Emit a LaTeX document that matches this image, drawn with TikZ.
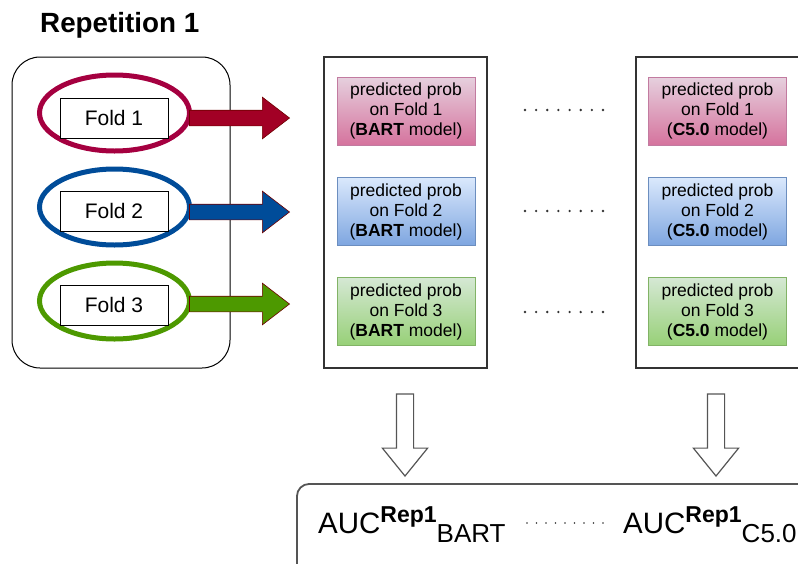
\documentclass[tikz,border=0pt]{standalone}
\usepackage{fontspec}
\setmainfont{Liberation Sans}
\usetikzlibrary{shapes.geometric,shapes.arrows}
\definecolor{redE}{HTML}{A50040}
\definecolor{redA}{HTML}{A20025}
\definecolor{blueE}{HTML}{004C99}
\definecolor{greenE}{HTML}{4D9900}
\definecolor{arrStroke}{HTML}{6F0000}
\definecolor{pinkT}{HTML}{E6D0DE}
\definecolor{pinkB}{HTML}{D5739D}
\definecolor{pinkS}{HTML}{C27BA0}
\definecolor{blueT}{HTML}{DAE8FC}
\definecolor{blueB}{HTML}{7EA6E0}
\definecolor{blueS}{HTML}{6C8EBF}
\definecolor{greenT}{HTML}{D5E8D4}
\definecolor{greenB}{HTML}{97D077}
\definecolor{greenS}{HTML}{82B366}
\definecolor{lineG}{HTML}{333333}
\definecolor{boxG}{HTML}{555555}
\begin{document}
\begin{tikzpicture}[x=1pt,y=-1pt,
  foldell/.style={ellipse, line width=5pt, minimum width=150pt, minimum height=76pt, inner sep=0pt},
  foldbox/.style={draw=black, fill=white, line width=0.9pt, minimum width=108pt, minimum height=40pt, inner sep=0pt, font=\fontsize{21}{24}\selectfont},
  blockarr/.style={single arrow, draw=arrStroke, line width=0.6pt, anchor=tip, minimum height=100pt, inner xsep=0pt, inner ysep=7.5pt, single arrow head extend=13pt, single arrow tip angle=75, single arrow head indent=0pt},
  downarr/.style={single arrow, draw=boxG, fill=white, line width=1.2pt, rotate=-90, anchor=tip, minimum height=82pt, inner xsep=0pt, inner ysep=8pt, single arrow head extend=14pt, single arrow tip angle=78, single arrow head indent=0pt},
  colbox/.style={draw=lineG, line width=1.2pt, minimum height=311pt, inner sep=0pt},
  probbox/.style={line width=0.9pt, minimum width=138pt, minimum height=68pt, inner sep=0pt, align=center, font=\fontsize{17.5}{20}\selectfont},
  pinkbox/.style={probbox, top color=pinkT, bottom color=pinkB, draw=pinkS},
  bluebox/.style={probbox, top color=blueT, bottom color=blueB, draw=blueS},
  greenbox/.style={probbox, top color=greenT, bottom color=greenB, draw=greenS},
  dotrow/.style={draw=lineG, line width=2.6pt, line cap=round, dash pattern=on 0pt off 11.14pt},
  smalldots/.style={draw=lineG, line width=1.9pt, line cap=round, dash pattern=on 0pt off 9.5pt},
  auc/.style={anchor=base west, inner sep=0pt}
]
\clip (0,0) rectangle (798,563);

\node[anchor=base west, inner sep=0pt, font=\bfseries\fontsize{27.8}{31}\selectfont] (title) at (40,32) {Repetition 1};

\node[draw=black, line width=1pt, rounded corners=28pt, minimum width=218pt, minimum height=311pt] (rep) at (121,212.5) {};

\node[foldell, draw=redE] (e1) at (114.5,113) {};
\node[foldell, draw=blueE] (e2) at (114.5,207) {};
\node[foldell, draw=greenE] (e3) at (114.5,301) {};

\node[foldbox] (f1) at (114,118) {Fold 1};
\node[foldbox] (f2) at (114,211) {Fold 2};
\node[foldbox] (f3) at (114,305) {Fold 3};

\node[blockarr, fill=redA] (a1) at (290,118) {};
\node[blockarr, fill=blueE] (a2) at (290,212) {};
\node[blockarr, fill=greenE] (a3) at (290,304) {};

\node[colbox, minimum width=163pt] (c1) at (405.5,212.5) {};
\node[colbox, minimum width=176pt] (c2) at (724,212.5) {};

\node[pinkbox] (p11) at (406,111) {predicted prob\\on Fold 1\\(\textbf{BART} model)};
\node[bluebox] (p12) at (406,211.5) {predicted prob\\on Fold 2\\(\textbf{BART} model)};
\node[greenbox] (p13) at (406,311.5) {predicted prob\\on Fold 3\\(\textbf{BART} model)};
\node[pinkbox] (p21) at (717.5,111) {predicted prob\\on Fold 1\\(\textbf{C5.0} model)};
\node[bluebox] (p22) at (717.5,211.5) {predicted prob\\on Fold 2\\(\textbf{C5.0} model)};
\node[greenbox] (p23) at (717.5,311.5) {predicted prob\\on Fold 3\\(\textbf{C5.0} model)};

\coordinate (ds1) at (525,110);
\coordinate (de1) at (603.5,110);
\coordinate (ds2) at (525,211);
\coordinate (de2) at (603.5,211);
\coordinate (ds3) at (525,312);
\coordinate (de3) at (603.5,312);
\draw[dotrow] (ds1) -- (de1);
\draw[dotrow] (ds2) -- (de2);
\draw[dotrow] (ds3) -- (de3);

\node[downarr] (d1) at (405,477) {};
\node[downarr] (d2) at (716,477) {};

\node[draw=boxG, line width=1.8pt, rounded corners=12pt, minimum width=653pt, minimum height=156pt] (aucbox) at (623.5,562) {};

\node[auc] (auc1) at (318,533) {\fontsize{29.5}{32}\selectfont AUC\raisebox{11pt}{\bfseries\fontsize{23}{25}\selectfont Rep1}\raisebox{-9pt}{\fontsize{26}{28}\selectfont BART}};
\node[auc] (auc2) at (623,533) {\fontsize{29.5}{32}\selectfont AUC\raisebox{11pt}{\bfseries\fontsize{23}{25}\selectfont Rep1}\raisebox{-9pt}{\fontsize{26}{28}\selectfont C5.0}};

\coordinate (bs) at (527,523);
\coordinate (be) at (603.5,523);
\draw[smalldots] (bs) -- (be);
\end{tikzpicture}
\end{document}
